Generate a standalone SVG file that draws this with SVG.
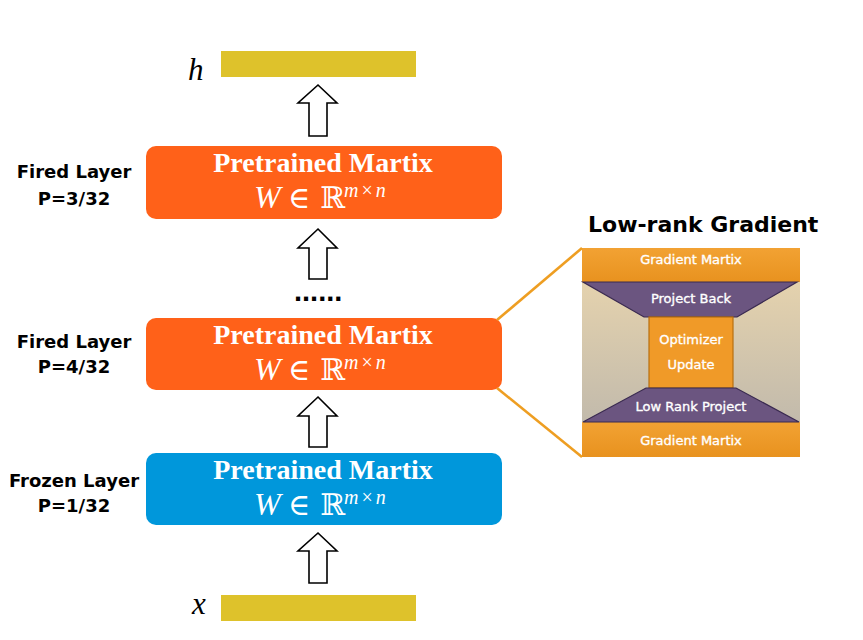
<svg xmlns="http://www.w3.org/2000/svg" width="863" height="640" viewBox="0 0 863 640">
<style>
.box-o{fill:#FF6119;}
.box-b{fill:#0097DB;}
.bar{fill:#DEC22B;}
.arrow{fill:#FFFFFF;stroke:#000000;stroke-width:1.6;stroke-linejoin:miter;}
.t1{font-family:"Liberation Serif","DejaVu Serif",serif;font-weight:bold;font-size:28px;fill:#FFFFFF;}
.m{font-family:"Liberation Serif","DejaVu Serif",serif;font-size:32px;fill:#FFFFFF;}
.mi{font-style:italic;}
.op{font-size:30px;}
.sup{font-family:"Liberation Serif","DejaVu Serif",serif;font-size:20px;fill:#FFFFFF;}
.lab{font-family:"DejaVu Sans","Liberation Sans",sans-serif;font-weight:bold;font-size:18px;fill:#000000;text-anchor:middle;}
.var{font-family:"Liberation Serif","DejaVu Serif",serif;font-style:italic;font-size:31px;fill:#000000;}
.pt{font-family:"DejaVu Sans","Liberation Sans",sans-serif;font-size:13px;fill:#FFFFFF;stroke:#FFFFFF;stroke-width:0.35;text-anchor:middle;}
.title{font-family:"DejaVu Sans","Liberation Sans",sans-serif;font-weight:bold;font-size:22px;fill:#000000;}
.trap{fill:#6B5580;stroke:#3A2A50;stroke-width:1.2;}
.conn{stroke:#EE9E22;stroke-width:2.6;fill:none;}
</style>
<defs>
<linearGradient id="bg" x1="0" y1="0" x2="0" y2="1">
<stop offset="0" stop-color="#EDD8AE"/>
<stop offset="1" stop-color="#B9B4AB"/>
</linearGradient>
<linearGradient id="og" x1="0" y1="0" x2="0" y2="1">
<stop offset="0" stop-color="#F2A233"/>
<stop offset="1" stop-color="#E8921F"/>
</linearGradient>
</defs>

<g id="h-output">
<text class="var" x="188" y="80">h</text>
<rect class="bar" x="221" y="51" width="195" height="26"/>
</g>

<g id="x-input">
<text class="var" x="192" y="614">x</text>
<rect class="bar" x="221" y="595" width="195" height="26"/>
</g>

<g id="layer-top">
<text class="lab" x="74" y="178">Fired Layer</text>
<text class="lab" x="74" y="205">P=3/32</text>
<rect class="box-o" x="146" y="146" width="356" height="73" rx="10"/>
<text class="t1" x="323" y="172" text-anchor="middle">Pretrained Martix</text>
<text class="m" y="208"><tspan class="mi" x="254">W</tspan><tspan class="op" x="288">∈</tspan><tspan class="op" x="320">ℝ</tspan></text>
<text class="sup" x="344" y="197"><tspan class="mi">m</tspan><tspan dx="3">×</tspan><tspan class="mi" dx="3">n</tspan></text>
</g>

<g id="ellipsis">
<text x="294" y="301" style="font-family:'Liberation Sans',Arial,sans-serif;font-weight:bold;font-size:29px;fill:#000">......</text>
</g>

<g id="layer-mid">
<text class="lab" x="74" y="348">Fired Layer</text>
<text class="lab" x="74" y="373">P=4/32</text>
<rect class="box-o" x="146" y="318" width="356" height="72" rx="10"/>
<text class="t1" x="323" y="344" text-anchor="middle">Pretrained Martix</text>
<text class="m" y="380"><tspan class="mi" x="254">W</tspan><tspan class="op" x="288">∈</tspan><tspan class="op" x="320">ℝ</tspan></text>
<text class="sup" x="344" y="369"><tspan class="mi">m</tspan><tspan dx="3">×</tspan><tspan class="mi" dx="3">n</tspan></text>
</g>

<g id="layer-bottom">
<text class="lab" x="74" y="487">Frozen Layer</text>
<text class="lab" x="74" y="512">P=1/32</text>
<rect class="box-b" x="146" y="453" width="356" height="72" rx="10"/>
<text class="t1" x="323" y="479" text-anchor="middle">Pretrained Martix</text>
<text class="m" y="515"><tspan class="mi" x="254">W</tspan><tspan class="op" x="288">∈</tspan><tspan class="op" x="320">ℝ</tspan></text>
<text class="sup" x="344" y="504"><tspan class="mi">m</tspan><tspan dx="3">×</tspan><tspan class="mi" dx="3">n</tspan></text>
</g>

<g id="low-rank-gradient">
<text class="title" x="588" y="232">Low-rank Gradient</text>
<rect x="582" y="248" width="218" height="209" fill="url(#bg)"/>
<rect x="582" y="248" width="218" height="34" fill="url(#og)"/>
<rect x="582" y="422" width="218" height="35" fill="url(#og)"/>
<polygon class="trap" points="583,282 797,282 737,317 644,317"/>
<rect x="649" y="317" width="84" height="71" fill="#F09A28" stroke="#B8700F" stroke-width="1.2"/>
<polygon class="trap" points="646,388 736,388 799,422 583,422"/>
<text class="pt" x="691" y="264">Gradient Martix</text>
<text class="pt" x="691" y="303">Project Back</text>
<text class="pt" x="691" y="344">Optimizer</text>
<text class="pt" x="691" y="369">Update</text>
<text class="pt" x="691" y="411">Low Rank Project</text>
<text class="pt" x="691" y="445">Gradient Martix</text>
</g>

<g id="connectors">
<polygon class="arrow" points="318,85 337,103 327,103 327,136 309,136 309,103 298,103"/>
<polygon class="arrow" points="318,229 337,248 327,248 327,279 309,279 309,248 298,248"/>
<polygon class="arrow" points="318,397 337,416 327,416 327,447 309,447 309,416 298,416"/>
<polygon class="arrow" points="318,533 337,551 327,551 327,583 309,583 309,551 298,551"/>
<line class="conn" x1="497" y1="320" x2="582" y2="248"/>
<line class="conn" x1="497" y1="388" x2="582" y2="457"/>
</g>
</svg>
